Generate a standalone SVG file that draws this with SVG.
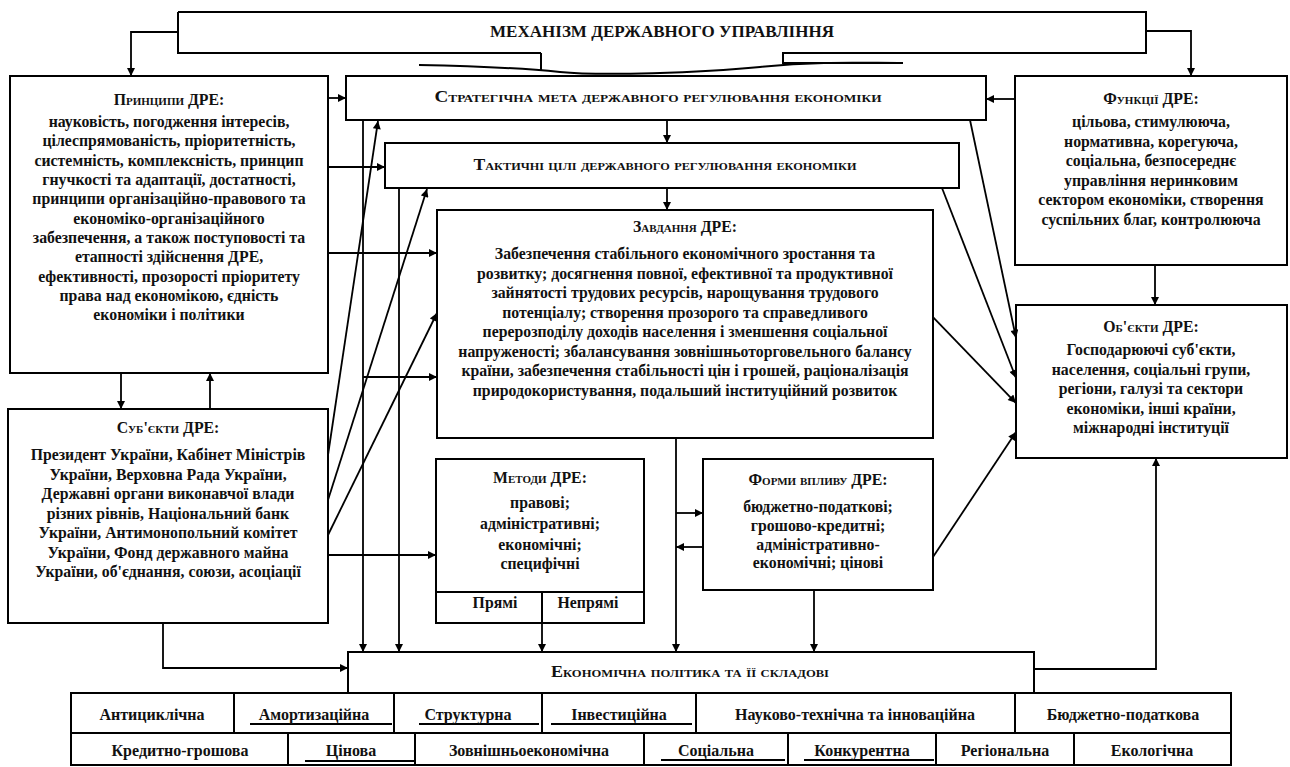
<svg xmlns="http://www.w3.org/2000/svg" width="1290" height="767" viewBox="0 0 1290 767">
<style>
.box{fill:#fff;stroke:#000;stroke-width:2}
.ln{fill:none;stroke:#000;stroke-width:2}
.c{fill:none;stroke:#000;stroke-width:1.8}
.ca{fill:none;stroke:#000;stroke-width:1.8;marker-end:url(#ah)}
.t{font-family:"Liberation Serif","Times New Roman",serif;font-size:15.8px;font-weight:bold;text-anchor:middle;fill:#111}
.sc{font-variant:small-caps}
.tb{font-family:"Liberation Serif","Times New Roman",serif;font-size:16px;font-weight:bold;text-anchor:middle;fill:#111}
</style>
<defs>
<marker id="ah" viewBox="0 0 10 10" refX="10" refY="5" markerWidth="10" markerHeight="8" markerUnits="userSpaceOnUse" orient="auto"><path d="M0,0 L10,5 L0,10 z" fill="#000"/></marker>
</defs>
<rect width="1290" height="767" fill="#fff"/>

<g id="mechanism">
<path class="box" d="M178,12 H1146 V53 H783 V63 H903 M541,53 H178 V12"/>
<path class="ln" d="M541,53 V71 M419,65 C470,66 520,68 560,72 S700,73 760,67 S860,63 903,63"/>
<text class="t" x="662" y="37" font-size="16" textLength="344" lengthAdjust="spacingAndGlyphs">МЕХАНІЗМ ДЕРЖАВНОГО УПРАВЛІННЯ</text>
</g>

<g id="principles">
<rect class="box" x="10" y="76" width="318" height="297"/>
<text class="t sc" x="169" y="105">Принципи ДРЕ:</text>
<text class="t" x="169" y="127">науковість, погодження інтересів,</text>
<text class="t" x="169" y="146">цілеспрямованість, пріоритетність,</text>
<text class="t" x="169" y="165.5">системність, комплексність, принцип</text>
<text class="t" x="169" y="185">гнучкості та адаптації, достатності,</text>
<text class="t" x="169" y="204">принципи організаційно-правового та</text>
<text class="t" x="169" y="223.5">економіко-організаційного</text>
<text class="t" x="169" y="243">забезпечення, а також поступовості та</text>
<text class="t" x="169" y="262">етапності здійснення ДРЕ,</text>
<text class="t" x="169" y="281.5">ефективності, прозорості пріоритету</text>
<text class="t" x="169" y="301">права над економікою, єдність</text>
<text class="t" x="169" y="320">економіки і політики</text>
</g>

<g id="subjects">
<rect class="box" x="8" y="409" width="320" height="214"/>
<text class="t sc" x="168" y="433">Суб'єкти ДРЕ:</text>
<text class="t" x="168" y="460">Президент України, Кабінет Міністрів</text>
<text class="t" x="168" y="479.5">України, Верховна Рада України,</text>
<text class="t" x="168" y="499">Державні органи виконавчої влади</text>
<text class="t" x="168" y="518.5">різних рівнів, Національний банк</text>
<text class="t" x="168" y="538">України, Антимонопольний комітет</text>
<text class="t" x="168" y="557.5">України, Фонд державного майна</text>
<text class="t" x="168" y="577">України, об'єднання, союзи, асоціації</text>
</g>

<g id="strategic">
<rect class="box" x="346" y="76" width="640" height="44"/>
<text class="t sc" x="658" y="102" textLength="447" lengthAdjust="spacingAndGlyphs">Стратегічна мета державного регулювання економіки</text>
</g>

<g id="tactical">
<rect class="box" x="385" y="143" width="574" height="45"/>
<text class="t sc" x="665" y="170" textLength="383" lengthAdjust="spacingAndGlyphs">Тактичні цілі державного регулювання економіки</text>
</g>

<g id="functions">
<rect class="box" x="1015" y="76" width="272" height="189"/>
<text class="t sc" x="1151" y="104">Функції ДРЕ:</text>
<text class="t" x="1151" y="127">цільова, стимулююча,</text>
<text class="t" x="1151" y="146.5">нормативна, корегуюча,</text>
<text class="t" x="1151" y="166">соціальна, безпосереднє</text>
<text class="t" x="1151" y="185.5">управління неринковим</text>
<text class="t" x="1151" y="205">сектором економіки,  створення</text>
<text class="t" x="1151" y="224.5">суспільних благ, контролююча</text>
</g>

<g id="tasks">
<rect class="box" x="437" y="210" width="496" height="228"/>
<text class="t sc" x="685" y="232">Завдання ДРЕ:</text>
<text class="t" x="685" y="259">Забезпечення стабільного економічного зростання та</text>
<text class="t" x="685" y="278.5">розвитку; досягнення повної, ефективної та продуктивної</text>
<text class="t" x="685" y="298">зайнятості трудових ресурсів, нарощування трудового</text>
<text class="t" x="685" y="317.5">потенціалу; створення прозорого та справедливого</text>
<text class="t" x="685" y="337">перерозподілу доходів населення і зменшення соціальної</text>
<text class="t" x="685" y="356.5">напруженості; збалансування зовнішньоторговельного балансу</text>
<text class="t" x="685" y="376">країни, забезпечення стабільності цін і грошей, раціоналізація</text>
<text class="t" x="685" y="395.5">природокористування, подальший інституційний розвиток</text>
</g>

<g id="objects">
<rect class="box" x="1016" y="305" width="271" height="153"/>
<text class="t sc" x="1151" y="332">Об'єкти ДРЕ:</text>
<text class="t" x="1151" y="355">Господарюючі суб'єкти,</text>
<text class="t" x="1151" y="374.5">населення, соціальні групи,</text>
<text class="t" x="1151" y="394">регіони, галузі та сектори</text>
<text class="t" x="1151" y="413.5">економіки, інші країни,</text>
<text class="t" x="1151" y="433">міжнародні інституції</text>
</g>

<g id="methods">
<rect class="box" x="436" y="459" width="208" height="164"/>
<path class="ln" d="M436,592 H644 M542,592 V623"/>
<text class="t sc" x="540" y="483">Методи ДРЕ:</text>
<text class="t" x="540" y="508">правові;</text>
<text class="t" x="540" y="529">адміністративні;</text>
<text class="t" x="540" y="550">економічні;</text>
<text class="t" x="540" y="569">специфічні</text>
<text class="t" x="495" y="608">Прямі</text>
<text class="t" x="588" y="608">Непрямі</text>
</g>

<g id="forms">
<rect class="box" x="703" y="459" width="230" height="131"/>
<text class="t sc" x="818" y="485">Форми впливу ДРЕ:</text>
<text class="t" x="818" y="512">бюджетно-податкові;</text>
<text class="t" x="818" y="531">грошово-кредитні;</text>
<text class="t" x="818" y="550">адміністративно-</text>
<text class="t" x="818" y="568">економічні; цінові</text>
</g>

<g id="policy">
<rect class="box" x="348" y="652" width="686" height="41"/>
<text class="t sc" x="690" y="677" textLength="278" lengthAdjust="spacingAndGlyphs">Економічна політика та її складові</text>
</g>

<g id="policy-table">
<rect class="box" x="71" y="693" width="1160" height="72"/>
<path class="ln" d="M71,733 H1231 M234,693 V733 M394,693 V733 M542,693 V733 M696,693 V733 M1015,693 V733 M288,733 V765 M415,733 V765 M644,733 V765 M788,733 V765 M936,733 V765 M1074,733 V765"/>
<path class="c" d="M250,724 H392 M419,724 H539 M551,724 H692 M305,761 H415 M661,760 H785 M804,760 H934"/>
<text class="tb" x="152" y="720">Антициклічна</text>
<text class="tb" x="314" y="720">Амортизаційна</text>
<text class="tb" x="468" y="720">Структурна</text>
<text class="tb" x="619" y="720">Інвестиційна</text>
<text class="tb" x="855" y="720">Науково-технічна та інноваційна</text>
<text class="tb" x="1123" y="720">Бюджетно-податкова</text>
<text class="tb" x="180" y="756">Кредитно-грошова</text>
<text class="tb" x="351" y="756">Цінова</text>
<text class="tb" x="529" y="756">Зовнішньоекономічна</text>
<text class="tb" x="716" y="756">Соціальна</text>
<text class="tb" x="862" y="756">Конкурентна</text>
<text class="tb" x="1005" y="756">Регіональна</text>
<text class="tb" x="1152" y="756">Екологічна</text>
</g>

<g id="connectors">
<path class="ca" d="M178,32 H131 V76"/>
<path class="ca" d="M1146,31 H1191 V76"/>
<path class="ca" d="M328,98 H346"/>
<path class="ca" d="M1015,99 H986"/>
<path class="ca" d="M667,120 V143"/>
<path class="ca" d="M667,188 V210"/>
<path class="ca" d="M328,167 H385"/>
<path class="ca" d="M328,253 H437"/>
<path class="ca" d="M363,120 V652"/>
<path class="ca" d="M399,188 V652"/>
<path class="ca" d="M363,377 H437"/>
<path class="ca" d="M328,555 H436"/>
<path class="ca" d="M328,455 L378,121"/>
<path class="ca" d="M328,500 L427,189"/>
<path class="ca" d="M328,535 L437,313"/>
<path class="ca" d="M121,373 V409"/>
<path class="ca" d="M210,409 V373"/>
<path class="ca" d="M163,623 V668 H348"/>
<path class="ca" d="M542,623 V652"/>
<path class="ca" d="M676,438 V652"/>
<path class="ca" d="M676,513 H703"/>
<path class="ca" d="M703,547 H676"/>
<path class="ca" d="M814,590 V652"/>
<path class="ca" d="M1155,265 V305"/>
<path class="ca" d="M1034,669 H1156 V458"/>
<path class="ca" d="M970,120 L1016,338"/>
<path class="ca" d="M942,188 L1016,378"/>
<path class="ca" d="M933,317 L1016,403"/>
<path class="ca" d="M933,557 L1016,432"/>
</g>
</svg>
